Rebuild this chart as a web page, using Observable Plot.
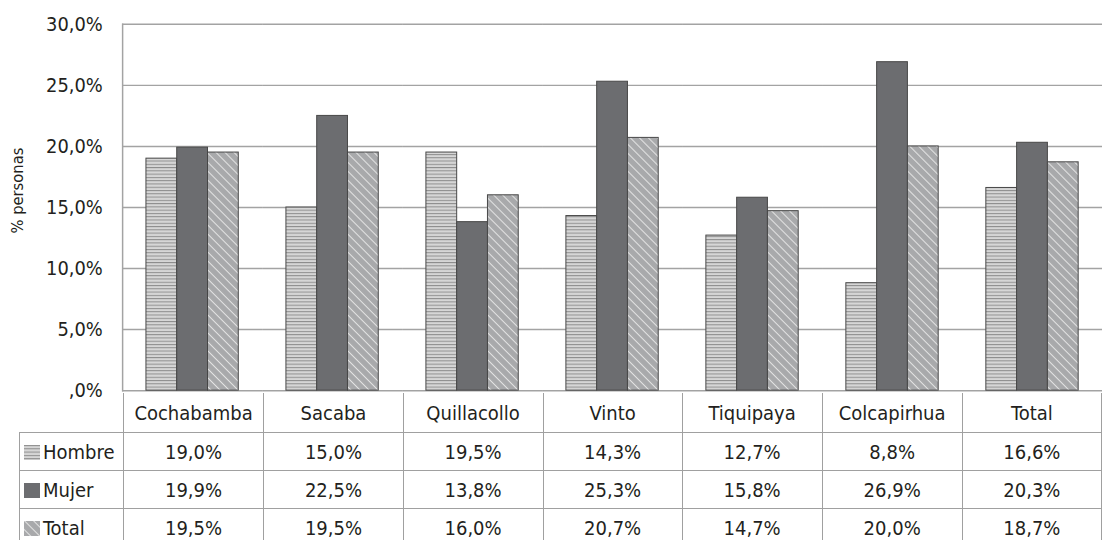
<!DOCTYPE html>
<html>
<head>
<meta charset="utf-8">
<script src="https://cdn.jsdelivr.net/npm/d3@7"></script>
<script src="https://cdn.jsdelivr.net/npm/@observablehq/plot@0.6"></script>
<style>
  html, body { margin: 0; padding: 0; background: #fff; }
  #wrap { position: relative; width: 1102px; height: 540px; overflow: hidden; background: #fff;
    font-family: "Liberation Sans Narrow", "DejaVu Sans Condensed", "Arial Narrow", sans-serif; color: #231f20; }
  #chart { position: absolute; left: 0; top: 0; }
  #tbl { position: absolute; left: 19px; top: 393px; border-collapse: collapse; table-layout: fixed; font-size: 20px; }
  #tbl td { padding: 0; border: 1.5px solid #a0a0a0; text-align: center; white-space: nowrap; overflow: hidden; }
  #tbl tr.cat td { height: 39px; border-top: none; }
  #tbl tr.cat td.corner { border-left: none; border-top: none; }
  #tbl tr.row td { height: 37px; }
  #tbl td.lab { text-align: left; padding-left: 4px; }
  .sw { display: inline-block; width: 16px; height: 15px; vertical-align: -1px; margin-right: 3px; }
</style>
</head>
<body>
<div id="wrap">
  <div id="chart"></div>
  <table id="tbl"></table>
</div>
<script>
const categories = ["Cochabamba", "Sacaba", "Quillacollo", "Vinto", "Tiquipaya", "Colcapirhua", "Total"];
const series = ["Hombre", "Mujer", "Total"];
const hombre = [19.0, 15.0, 19.5, 14.3, 12.7, 8.8, 16.6];
const mujer = [19.9, 22.5, 13.8, 25.3, 15.8, 26.9, 20.3];
const total = [19.5, 19.5, 16.0, 20.7, 14.7, 20.0, 18.7];
const yTicks = [0, 5, 10, 15, 20, 25, 30];
const yTitle = "% personas";

const valuesBySeries = {Hombre: hombre, Mujer: mujer, Total: total};
const patternIds = {Hombre: "pH", Mujer: "pM", Total: "pT"};
const data = [];
categories.forEach((c, i) => series.forEach(s => data.push({cat: c, series: s, value: valuesBySeries[s][i]})));

const fmtPct = v => v.toFixed(1).replace(".", ",") + "%";
const fmtTick = d => d === 0 ? ",0%" : fmtPct(d);

const svg = Plot.plot({
  width: 1110,
  height: 394,
  marginTop: 24,
  marginBottom: 1,
  marginLeft: 123,
  marginRight: 0,
  style: {fontFamily: '"Liberation Sans Narrow", "DejaVu Sans Condensed", sans-serif', fontSize: "20px", color: "#231f20", overflow: "visible"},
  fx: {domain: categories, padding: 0, axis: null},
  x: {domain: series, paddingInner: 0, paddingOuter: 0.725, axis: null},
  y: {domain: [0, 30], axis: null},
  color: {domain: series, range: series.map(s => `url(#${patternIds[s]})`)},
  marks: [
    Plot.gridY(yTicks, {stroke: "#a3a3a3", strokeOpacity: 1, strokeWidth: 1.5}),
    Plot.barY(data, {fx: "cat", x: "series", y: "value", fill: "series", stroke: "#474747", strokeWidth: 1, inset: 0}),
    Plot.frame({anchor: "left", stroke: "#a3a3a3", strokeWidth: 1.5, facetAnchor: "left"}),
    Plot.axisY(yTicks, {tickSize: 0, tickPadding: 20, tickFormat: fmtTick, label: null, fontSize: 20, facetAnchor: "left"}),
    Plot.text([yTitle], {frameAnchor: "left", textAnchor: "middle", rotate: -90, dx: -106, dy: -17, fontSize: 16.5, fill: "#231f20", facetAnchor: "left"})
  ]
});

// patterns
const defs = d3.select(svg).insert("defs", ":first-child");
const pH = defs.append("pattern").attr("id", "pH").attr("patternUnits", "userSpaceOnUse").attr("width", 4).attr("height", 3.3);
pH.append("rect").attr("width", 4).attr("height", 3.3).attr("fill", "#d6d6d6");
pH.append("rect").attr("y", 0).attr("width", 4).attr("height", 1).attr("fill", "#8d8d8d");
const pM = defs.append("pattern").attr("id", "pM").attr("patternUnits", "userSpaceOnUse").attr("width", 4).attr("height", 4);
pM.append("rect").attr("width", 4).attr("height", 4).attr("fill", "#6c6d70");
const pT = defs.append("pattern").attr("id", "pT").attr("patternUnits", "userSpaceOnUse").attr("width", 6.4).attr("height", 6.4).attr("patternTransform", "rotate(-45)");
pT.append("rect").attr("width", 6.4).attr("height", 6.4).attr("fill", "#a8a9ab");
pT.append("rect").attr("x", 0).attr("width", 1).attr("height", 6.4).attr("fill", "#e6e6e6");

document.getElementById("chart").appendChild(svg);

// table
const tbl = d3.select("#tbl");
const cg = tbl.append("colgroup");
cg.append("col").style("width", "104px");
categories.forEach(() => cg.append("col").style("width", "141px"));
const r0 = tbl.append("tr").attr("class", "cat");
r0.append("td").attr("class", "corner");
categories.forEach(c => r0.append("td").text(c));
series.forEach(s => {
  const tr = tbl.append("tr").attr("class", "row");
  const lab = tr.append("td").attr("class", "lab");
  lab.html(`<svg class="sw" width="16" height="15"><rect width="16" height="15" fill="url(#${patternIds[s]})"/></svg>`);
  lab.append("span").text(s);
  valuesBySeries[s].forEach(v => tr.append("td").text(fmtPct(v)));
});
</script>
</body>
</html>
